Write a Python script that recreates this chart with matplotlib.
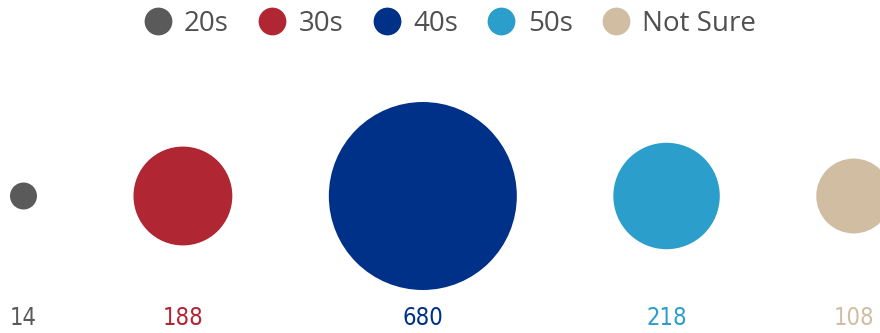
import numpy as np
import matplotlib
matplotlib.use("Agg")
import matplotlib.pyplot as plt
from matplotlib.patches import Circle
from matplotlib.lines import Line2D

categories = ["20s", "30s", "40s", "50s", "Not Sure"]
counts = [14, 188, 680, 218, 108]
colors = ["#5a5a5a", "#b02633", "#003189", "#2c9ecb", "#d1bea2"]
label_colors = ["#5a5a5a", "#b02633", "#003189", "#2c9ecb", "#d1bea2"]

W, H = 880, 333
fig = plt.figure(figsize=(W / 100, H / 100), dpi=100)
ax = fig.add_axes([0, 0, 1, 1])
ax.set_xlim(0, W)
ax.set_ylim(H, 0)
ax.set_aspect("equal")
ax.axis("off")

# bubble area proportional to count; bubbles packed left to right with a fixed gap
scale = 94 / np.sqrt(max(counts))
radii = scale * np.sqrt(np.array(counts, dtype=float))
gap = 96.5
left = 10
centers = []
x = left
for r in radii:
    centers.append(x + r)
    x += 2 * r + gap
cy = 196

for cx, r, c in zip(centers, radii, colors):
    ax.add_patch(Circle((cx, cy), r, facecolor=c, edgecolor="none"))

for cx, v, c in zip(centers, counts, label_colors):
    ax.text(cx, 318, str(v), ha="center", va="center", color=c,
            fontsize=17, family="DejaVu Sans", fontstretch="condensed")

handles = [Line2D([], [], marker="o", linestyle="none", markersize=20,
                  markerfacecolor=c, markeredgecolor="none") for c in colors]
leg = ax.legend(handles, categories, loc="center",
                bbox_to_anchor=(450 / W, 1 - 24 / H),
                ncol=5, frameon=False, handletextpad=0.45, columnspacing=1.06,
                handlelength=1.0, prop={"family": "Open Sans", "size": 20},
                borderaxespad=0)
for t in leg.get_texts():
    t.set_color("#505050")

fig.savefig("out.png", dpi=100)
